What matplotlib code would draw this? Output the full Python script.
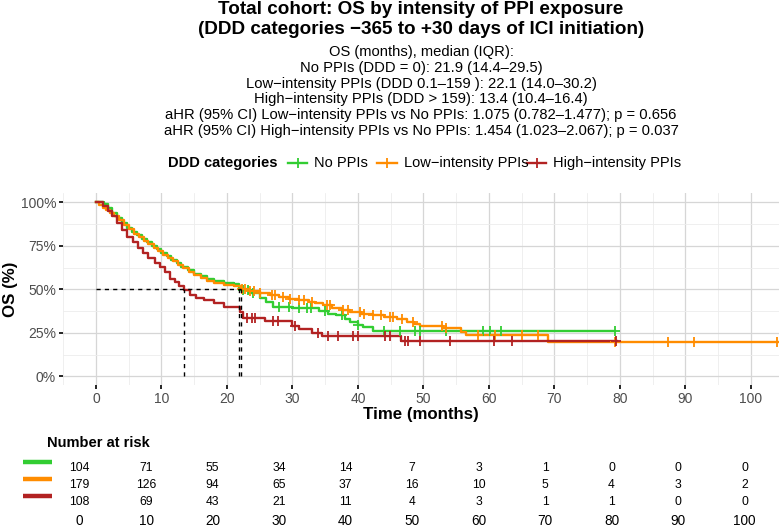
import numpy as np
import matplotlib
matplotlib.use("Agg")
import matplotlib.pyplot as plt
from matplotlib.lines import Line2D
from matplotlib.ticker import MultipleLocator

plt.rcParams['font.family'] = ['Liberation Sans', 'DejaVu Sans']

# ---- data ----
groups = ["No PPIs", "Low\u2212intensity PPIs", "High\u2212intensity PPIs"]
colors = ["#32CD32", "#FF8C00", "#B22222"]

# Kaplan-Meier steps (time in months, survival after the step)
green_t = [0, 1.2, 1.8, 2.5, 3.2, 4.0, 4.8, 5.5, 6.3, 7.0, 7.8, 8.6, 9.3, 10.0, 10.8, 11.5,
           12.3, 13.0, 14.0, 15.0, 16.0, 17.0, 18.0, 19.5, 21.0, 21.9, 23.5, 25.0, 26.0, 27.0,
           30.0, 34.0, 35.5, 36.7, 38.0, 38.8, 40.0, 40.8, 42.3]
green_s = [1.0, 0.99, 0.97, 0.94, 0.91, 0.88, 0.85, 0.83, 0.81, 0.79, 0.77, 0.75, 0.73, 0.71, 0.69, 0.67,
           0.65, 0.63, 0.61, 0.59, 0.575, 0.56, 0.545, 0.535, 0.53, 0.495, 0.48, 0.45, 0.43, 0.40,
           0.39, 0.375, 0.36, 0.35, 0.33, 0.31, 0.295, 0.285, 0.262]
green_end = 79.3
green_cens = [22.5, 23.2, 24.0, 28.0, 29.5, 31.0, 32.2, 32.8, 35.0, 37.5, 40.0, 44.0, 46.4, 48.7,
              49.5, 53.5, 59.1, 60.2, 61.9, 79.2]

orange_t = [0, 0.5, 1.0, 1.6, 2.2, 2.8, 3.5, 4.2, 5.0, 5.8, 6.5, 7.3, 8.0, 8.8, 9.5, 10.3, 11.0,
            11.8, 12.5, 13.3, 14.2, 15.0, 16.0, 17.0, 18.0, 19.5, 21.0, 22.1, 23.5, 25.0, 26.5,
            28.0, 29.5, 31.0, 32.5, 33.5, 34.6, 36.0, 37.5, 38.8, 40.5, 42.3, 44.0, 45.9, 47.5,
            48.5, 49.5, 53.0, 55.8, 56.5, 69.1]
orange_s = [1.0, 0.985, 0.97, 0.955, 0.94, 0.92, 0.90, 0.87, 0.845, 0.82, 0.80, 0.78, 0.76, 0.74,
            0.72, 0.70, 0.68, 0.66, 0.64, 0.62, 0.60, 0.585, 0.565, 0.55, 0.535, 0.525, 0.52, 0.50,
            0.49, 0.48, 0.465, 0.455, 0.445, 0.44, 0.43, 0.42, 0.41, 0.395, 0.38, 0.37, 0.36, 0.35,
            0.34, 0.33, 0.315, 0.30, 0.29, 0.28, 0.255, 0.237, 0.199]
orange_end = 104.3
orange_cens = [22.3, 22.8, 23.5, 24.2, 25.0, 26.8, 27.3, 28.5, 29.6, 31.0, 31.8, 33.0, 35.2, 35.8,
               37.7, 38.5, 40.3, 41.0, 42.3, 43.5, 44.9, 45.4, 46.7, 48.4, 52.8, 53.5, 58.3, 60.9,
               65.0, 67.5, 79.2, 87.3, 91.3, 104.0]

red_t = [0, 1.0, 1.8, 2.5, 3.2, 4.0, 4.8, 5.6, 6.4, 7.2, 8.0, 9.0, 9.8, 10.5, 11.3, 12.0, 12.7,
         13.4, 14.3, 15.3, 16.5, 18.0, 19.5, 22.0, 22.4, 25.8, 30.0, 31.0, 33.0, 34.5, 46.5]
red_s = [1.0, 0.98, 0.95, 0.92, 0.88, 0.84, 0.80, 0.77, 0.74, 0.71, 0.68, 0.65, 0.63, 0.60, 0.56,
         0.54, 0.52, 0.495, 0.47, 0.45, 0.44, 0.42, 0.40, 0.37, 0.335, 0.32, 0.29, 0.27, 0.25,
         0.23, 0.205]
red_end = 79.5
red_cens = [23.0, 23.8, 24.3, 27.0, 27.8, 30.4, 33.9, 35.4, 36.9, 39.2, 40.0, 44.1, 44.9, 47.2,
            47.6, 49.5, 54.0, 60.8, 63.5, 79.4]

medians = [21.9, 22.1, 13.4]

risk_times = [0, 10, 20, 30, 40, 50, 60, 70, 80, 90, 100]
green_risk = [104, 71, 55, 34, 14, 7, 3, 1, 0, 0, 0]
orange_risk = [179, 126, 94, 65, 37, 16, 10, 5, 4, 3, 2]
red_risk = [108, 69, 43, 21, 11, 4, 3, 1, 1, 0, 0]

title = ["Total cohort: OS by intensity of PPI exposure",
         "(DDD categories \u2212365 to +30 days of ICI initiation)"]
subtitle = [
    "OS (months), median (IQR):",
    "No PPIs (DDD = 0): 21.9 (14.4\u201329.5)",
    "Low\u2212intensity PPIs (DDD 0.1\u2013159 ): 22.1 (14.0\u201330.2)",
    "High\u2212intensity PPIs (DDD > 159): 13.4 (10.4\u201316.4)",
    "aHR (95% CI) Low\u2212intensity PPIs vs No PPIs: 1.075 (0.782\u20131.477); p = 0.656",
    "aHR (95% CI) High\u2212intensity PPIs vs No PPIs: 1.454 (1.023\u20132.067); p = 0.037",
]

W, H = 779, 528
fig = plt.figure(figsize=(W / 100, H / 100), dpi=100)


def fx(px):
    return px / W


def fy(py):
    return 1 - py / H


# ---- survival panel ----
ax = fig.add_axes([fx(63), fy(385), fx(779) - fx(63), fy(193.3) - fy(385)])
ax.set_xlim(-5.04, 104.3)
ax.set_ylim(-0.05, 1.052)

curves = [(green_t, green_s, green_end, green_cens),
          (orange_t, orange_s, orange_end, orange_cens),
          (red_t, red_s, red_end, red_cens)]
for (t, s, end, cens), col in zip(curves, colors):
    t = np.array(t)
    s = np.array(s)
    ax.plot(np.append(t, end), np.append(s, s[-1]), drawstyle='steps-post',
            color=col, lw=1.7, zorder=3)
    cens = np.array(cens)
    idx = np.searchsorted(t, cens, side='right') - 1
    ax.plot(cens, s[idx], ls='none', marker='+', ms=7, mew=1.3, color=col, zorder=4)

# median lines
ax.plot([0, max(medians)], [0.5, 0.5], ls=(0, (3, 3)), color='black', lw=1.0, zorder=5)
for m in medians:
    ax.plot([m, m], [0, 0.5], ls=(0, (3, 3)), color='black', lw=1.0, zorder=5)

ax.xaxis.set_major_locator(MultipleLocator(10))
ax.xaxis.set_minor_locator(MultipleLocator(5))
ax.yaxis.set_minor_locator(MultipleLocator(0.125))
ax.set_yticks([0, 0.25, 0.5, 0.75, 1.0])
ax.set_yticklabels(["0%", "25%", "50%", "75%", "100%"])
ax.grid(which='major', color='#D6D6D6', lw=0.9)
ax.grid(which='minor', color='#EDEDED', lw=0.6)
ax.set_axisbelow(True)
for sp in ax.spines.values():
    sp.set_visible(False)
ax.tick_params(which='major', length=3, width=1.2, color='black', labelsize=10,
               labelcolor='#4D4D4D', pad=2)
ax.tick_params(which='minor', length=0)

fig.text(fx(421), fy(415), "Time (months)", ha='center', va='center',
         fontsize=12.2, fontweight='bold')
fig.text(fx(11), fy(289), "OS (%)", ha='center', va='center', rotation=90,
         fontsize=12.2, fontweight='bold')

# ---- titles ----
for i, line in enumerate(title):
    fig.text(fx(421), fy(9 + i * 20), line, ha='center', va='center', fontsize=13.6,
             fontweight='bold')
for i, line in enumerate(subtitle):
    fig.text(fx(421), fy(52.5 + i * 15.6), line, ha='center', va='center', fontsize=10.6)

# ---- legend ----
fig.text(fx(278), fy(163), "DDD categories", ha='right', va='center',
         fontsize=10.5, fontweight='bold')
key_x = [(288, 307), (377, 397), (527, 546)]
for (x0, x1), col, lab in zip(key_x, colors, groups):
    fig.add_artist(Line2D([fx(x0), fx(x1)], [fy(163), fy(163)], color=col, lw=1.7,
                          transform=fig.transFigure))
    fig.add_artist(Line2D([fx((x0 + x1) / 2)], [fy(163)], color=col, marker='+', ms=7,
                          mew=1.3, transform=fig.transFigure))
    fig.text(fx(x1 + 7), fy(163), lab, ha='left', va='center', fontsize=10.5)

# ---- risk table ----
rx = fig.add_axes([fx(63), fy(510), fx(779) - fx(63), fy(459) - fy(510)])
rx.set_xlim((63 - 79.5) / 6.65, (779 - 79.5) / 6.65)
rx.set_ylim(0.5, 3.5)
for row, (vals, col) in enumerate(zip([green_risk, orange_risk, red_risk], colors)):
    yrow = 3 - row
    for tt, v in zip(risk_times, vals):
        rx.text(tt, yrow - 0.05, str(v), ha='center', va='center', fontsize=8.7)
    rx.plot([-(79.5 - 23) / 6.65, -(79.5 - 52) / 6.65], [yrow + 0.3, yrow + 0.3],
            color=col, lw=3.2, solid_capstyle='butt', clip_on=False)
rx.set_xticks(risk_times)
rx.set_yticks([])
rx.tick_params(length=0, labelsize=9.8, pad=3)
for sp in rx.spines.values():
    sp.set_visible(False)
fig.text(fx(47), fy(443), "Number at risk", ha='left', va='center',
         fontsize=10.5, fontweight='bold')

fig.savefig("out.png", dpi=100)
